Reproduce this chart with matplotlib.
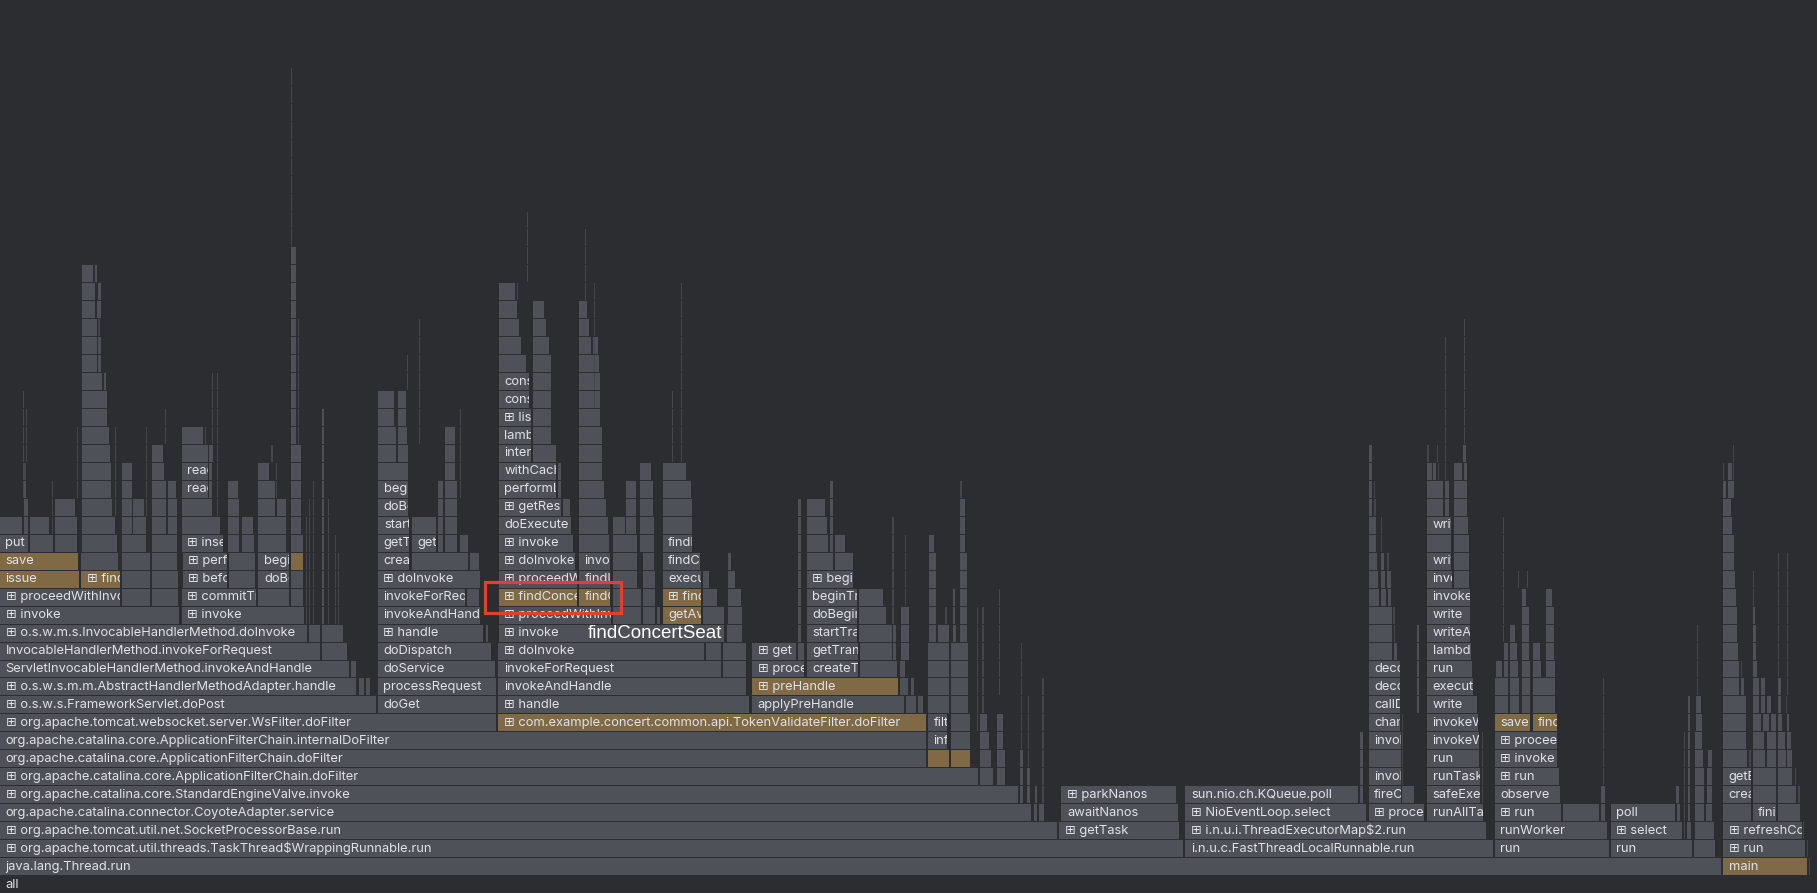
import matplotlib
matplotlib.use("Agg")
import matplotlib.pyplot as plt
from matplotlib.patches import Rectangle
from matplotlib.transforms import Bbox, TransformedBbox

# flame graph frames: (depth, start, end, label); x in sample units (0..1568)
root_label = "all"
total_width = 1568

thread_frames = [
    (1, 0, 1486, "java.lang.Thread.run"),
    (2, 0, 1022, "⊞ org.apache.tomcat.util.threads.TaskThread$WrappingRunnable.run"),
    (3, 0, 913, "⊞ org.apache.tomcat.util.net.SocketProcessorBase.run"),
    (3, 914, 1018, "⊞ getTask"),
    (4, 0, 891, "org.apache.catalina.connector.CoyoteAdapter.service"),
    (4, 892, 896, ""), (4, 897, 902, ""),
    (4, 916, 1017, "awaitNanos"),
    (5, 0, 879, "⊞ org.apache.catalina.core.StandardEngineValve.invoke"),
    (5, 880, 884, ""), (5, 886, 890, ""), (5, 893, 896, ""), (5, 899.5, 901.5, ""),
    (5, 916, 1016, "⊞ parkNanos"),
    (6, 0, 845, "⊞ org.apache.catalina.core.ApplicationFilterChain.doFilter"),
    (6, 846, 858, ""), (6, 860, 868, ""),
    (7, 0, 800, "org.apache.catalina.core.ApplicationFilterChain.doFilter"),
    (7, 801, 820, ""), (7, 821, 838, ""), (7, 846, 856, ""), (7, 860, 868, ""),
    (8, 0, 800, "org.apache.catalina.core.ApplicationFilterChain.internalDoFilter"),
    (8, 801, 818, "info"), (8, 821, 838, ""), (8, 846, 854, ""), (8, 860, 866, ""),
    (9, 0, 429, "⊞ org.apache.tomcat.websocket.server.WsFilter.doFilter"),
    (9, 430, 800, "⊞ com.example.concert.common.api.TokenValidateFilter.doFilter"),
    (9, 801, 818, "filterInternal"), (9, 821, 838, ""), (9, 846, 853, ""), (9, 860, 866, ""),
]

mvc_frames = [
    (10, 0, 325, "⊞ o.s.w.s.FrameworkServlet.doPost"),
    (10, 326, 429, "doGet"),
    (11, 0, 308, "⊞ o.s.w.s.m.m.AbstractHandlerMethodAdapter.handle"),
    (11, 310, 315, ""), (11, 316, 320, ""),
    (11, 326, 429, "processRequest"),
    (12, 0, 302, "ServletInvocableHandlerMethod.invokeAndHandle"),
    (12, 303, 308, ""),
    (12, 326, 428, "doService"),
    (13, 0, 277, "InvocableHandlerMethod.invokeForRequest"),
    (13, 278, 300, ""),
    (13, 326, 425, "doDispatch"),
    (14, 0, 266, "⊞ o.s.w.m.s.InvocableHandlerMethod.doInvoke"),
    (14, 267, 277, ""), (14, 278, 297, ""),
    (14, 326, 418, "⊞ handle"), (14, 419, 422, ""),
    (15, 0, 155, "⊞ invoke"),
    (15, 157, 263, "⊞ invoke"),
    (15, 326, 415, "invokeAndHandle"),
    (16, 0, 104, "⊞ proceedWithInvocation"),
    (16, 105, 130, ""), (16, 131, 154.5, ""),
    (16, 157, 222, "⊞ commitTransactionAfterReturning"),
    (16, 223, 250, ""), (16, 251, 262.5, ""),
    (16, 326, 402, "invokeForRequest"), (16, 403, 414, ""),
    (17, 0, 69, "issue"),
    (17, 70, 104, "⊞ findById"),
    (17, 105, 130, ""), (17, 131, 154.5, ""),
    (17, 157.5, 196.5, "⊞ beforeCommit"), (17, 197.5, 221, ""),
    (17, 223, 250, "doBegin"),
    (17, 251, 262.5, ""),
    (17, 326, 415, "⊞ doInvoke"),
    (18, 0, 68, "save"),
    (18, 70, 103, ""), (18, 105, 130, ""), (18, 131, 154, ""),
    (18, 157.5, 196.5, "⊞ perform"), (18, 197.5, 221, ""),
    (18, 223, 250, "begin"), (18, 251, 262.5, ""),
    (18, 326.5, 354, "createEntityManager"), (18, 355.3, 405, ""), (18, 406, 414, ""),
    (19, 0, 25, "put"), (19, 26, 46.6, ""), (19, 47.5, 67.6, ""),
    (19, 70.5, 102, ""), (19, 105, 126.6, ""), (19, 131, 154, ""),
    (19, 157, 193, "⊞ insert"), (19, 196.5, 207, ""), (19, 208.6, 220, ""),
    (19, 222.4, 248, ""), (19, 251, 262, ""),
    (19, 326.5, 353.8, "getTransaction"), (19, 355.3, 376.8, "get"),
    (19, 378, 383, ""), (19, 384, 395.6, ""), (19, 397, 405, ""),
    (20, 0, 20, ""), (20, 20.7, 25, ""), (20, 26, 43, ""), (20, 47.5, 67.6, ""),
    (20, 70.5, 100, ""), (20, 105, 114.5, ""), (20, 115, 126.6, ""),
    (20, 131, 144, ""), (20, 144.7, 154, ""), (20, 157, 191, ""),
    (20, 196.5, 207, ""), (20, 208.6, 219, ""), (20, 222.4, 248, ""), (20, 251, 261, ""),
    (20, 326.5, 353.8, "startTransaction"), (20, 355.3, 376.8, ""),
    (20, 378, 383, ""), (20, 384, 395.6, ""),
    (21, 20.7, 25, ""), (21, 47.5, 66, ""), (21, 70.5, 97.8, ""),
    (21, 105, 114.5, ""), (21, 115, 125, ""), (21, 131, 144, ""), (21, 144.7, 154, ""),
    (21, 157, 184, ""), (21, 196.5, 207, ""), (21, 222.4, 238, ""), (21, 239, 248, ""),
    (21, 251, 261, ""),
    (21, 326.5, 353, "doBegin"), (21, 378, 383, ""), (21, 384, 395.6, ""),
    (22, 20.7, 23.6, ""), (22, 70.5, 97, ""), (22, 105, 114.5, ""),
    (22, 131, 144, ""), (22, 144.7, 153, ""), (22, 157, 180, "read"), (22, 180.7, 184, ""),
    (22, 196.5, 206.6, ""), (22, 222.4, 238, ""), (22, 251, 261, ""),
    (22, 326.5, 353, "begin"), (22, 378, 383, ""), (22, 384, 395.6, ""),
    (23, 20.7, 23, ""), (23, 70.5, 96.4, ""), (23, 105, 114.5, ""), (23, 131, 142.4, ""),
    (23, 157, 180, "read"), (23, 180.7, 184, ""), (23, 222.4, 233, ""), (23, 251, 261, ""),
    (23, 326.5, 353, ""), (23, 384, 393.5, ""),
    (24, 70.5, 95.5, ""), (24, 131, 141.5, ""), (24, 157, 180, ""), (24, 180.7, 184.7, ""),
    (24, 251, 261, ""),
    (24, 326.5, 342.9, ""), (24, 343.5, 352.7, ""), (24, 384, 393.5, ""),
    (25, 70.5, 95, ""), (25, 157, 176, ""), (25, 177, 179, ""),
    (25, 326.5, 342.3, ""), (25, 343.5, 352.4, ""), (25, 384, 393.5, ""),
    (26, 70.5, 93.5, ""), (26, 326.5, 340.9, ""), (26, 343.5, 351.5, ""),
    (27, 70.5, 93.5, ""), (27, 326.5, 340.9, ""), (27, 343.5, 351.5, ""),
    (28, 70.5, 89, ""), (28, 89.5, 92.6, ""),
    (29, 70.5, 84.3, ""), (29, 84.9, 87.7, ""),
    (30, 70.5, 84.3, ""), (30, 84.9, 87.7, ""),
    (31, 70.5, 84.3, ""), (31, 84.9, 87.2, ""),
    (32, 70.5, 82.9, ""), (32, 83.4, 87.7, ""),
    (33, 70.5, 82.6, ""), (33, 84.9, 87.7, ""),
    (34, 70.5, 81.4, ""), (34, 82, 84.9, ""),
]

concert_frames = [
    (10, 430, 647, "⊞ handle"),
    (11, 430, 645, "invokeAndHandle"),
    (12, 430, 623, "invokeForRequest"), (12, 624, 644.5, ""),
    (13, 430, 608.6, "⊞ doInvoke"), (13, 609.6, 622.8, ""), (13, 623.5, 644.3, ""),
    (14, 430.6, 626, "⊞ invoke"), (14, 627, 641.6, ""),
    (15, 430.6, 527.8, "⊞ proceedWithInvocation"), (15, 528.7, 553.7, ""),
    (15, 554.6, 566, ""), (15, 567, 570.5, ""),
    (15, 571.9, 606.1, "getAvailableSeats"), (15, 607, 625.5, ""), (15, 628.5, 641.5, ""),
    (16, 430.6, 498.5, "⊞ findConcertSeat"), (16, 499.6, 527.3, "findConcertSeat"),
    (16, 528.7, 553.7, ""), (16, 554.6, 566, ""),
    (16, 571.9, 606.1, "⊞ findAllSeats"), (16, 607, 620, ""), (16, 628.5, 640, ""),
    (17, 430.6, 498.5, "⊞ proceedWithInvocation"), (17, 499.6, 527.3, "findList"),
    (17, 528.7, 550.9, ""), (17, 554.6, 566, ""),
    (17, 571.9, 606.1, "execute"), (17, 607, 613, ""), (17, 628.5, 635, ""),
    (18, 430.6, 496.8, "⊞ doInvoke"), (18, 499.6, 527.3, "invoke"),
    (18, 528.7, 550.9, ""), (18, 554.6, 565, ""),
    (18, 571.9, 604.7, "findConcert"), (18, 628.5, 632, ""),
    (19, 430.6, 495.6, "⊞ invoke"), (19, 499.6, 526.4, ""), (19, 528.7, 550.9, ""),
    (19, 552.3, 565, ""), (19, 571.9, 598.3, "findList"),
    (20, 430.6, 493.3, "doExecute"), (20, 499.6, 525.8, ""), (20, 528.7, 540, ""),
    (20, 540.3, 550, ""), (20, 552.3, 565, ""), (20, 571.9, 598.3, ""),
    (21, 430.6, 484.7, "⊞ getResultList"), (21, 485.5, 493, ""), (21, 499.6, 523.5, ""),
    (21, 540.3, 550, ""), (21, 552.3, 564, ""), (21, 571.9, 598.3, ""),
    (22, 430.6, 480.4, "performList"), (22, 481.2, 484.7, ""), (22, 499.6, 522.1, ""),
    (22, 540.3, 549.4, ""), (22, 552.3, 564, ""), (22, 571.9, 597, ""),
    (23, 430.6, 480.4, "withCacheableTransaction"), (23, 481.2, 484.7, ""),
    (23, 499.6, 520.7, ""), (23, 552.3, 563, ""), (23, 571.9, 592.6, ""),
    (24, 430.6, 458.8, "interpret"), (24, 459.7, 480.4, ""), (24, 499.6, 520.7, ""),
    (25, 430.6, 458.8, "lambda$list$0"), (25, 459.7, 476.1, ""), (25, 499.6, 520, ""),
    (26, 430.6, 458.8, "⊞ list"), (26, 459.7, 476.1, ""), (26, 499.6, 518.4, ""),
    (27, 430.6, 457.4, "consume"), (27, 459.7, 476.1, ""), (27, 499.6, 518.4, ""),
    (28, 430.6, 457.4, "consume"), (28, 459.7, 476.1, ""), (28, 499.6, 518.4, ""),
    (29, 431, 455.1, ""), (29, 459.7, 476.1, ""), (29, 499.7, 517.8, ""),
    (30, 431, 450.2, ""), (30, 459.7, 474.7, ""), (30, 499.7, 510.6, ""), (30, 511.5, 517, ""),
    (31, 431, 448.8, ""), (31, 459.7, 472, ""), (31, 499.7, 509, ""),
    (32, 431, 447.3, ""), (32, 459.7, 470, ""), (32, 499.7, 507.7, ""),
    (33, 431, 445.3, ""), (33, 446, 448, ""),
]

tx_frames = [
    (10, 649, 781, "applyPreHandle"), (10, 782, 791, ""), (10, 792, 797, ""),
    (10, 801, 820, ""), (10, 821, 836, ""),
    (11, 649, 776, "⊞ preHandle"), (11, 777, 784, ""), (11, 786, 790, ""),
    (11, 801, 820, ""), (11, 821, 836, ""),
    (12, 649, 695, "⊞ proceed"), (12, 696, 741.7, "createTransactionIfNecessary"),
    (12, 742.4, 774.7, ""), (12, 777, 782, ""), (12, 801, 820, ""), (12, 821, 836, ""),
    (13, 649, 688, "⊞ get"), (13, 689, 695, ""), (13, 696, 741.7, "getTransaction"),
    (13, 742.4, 770.4, ""), (13, 771, 774, ""), (13, 801, 820, ""), (13, 821, 836, ""),
    (14, 689, 692, ""), (14, 696.2, 740.3, "startTransaction"), (14, 741.5, 770.2, ""),
    (14, 771, 774, ""), (14, 801.3, 808.7, ""), (14, 809.3, 819.5, ""),
    (14, 822, 825.6, ""), (14, 828.7, 835.5, ""),
    (15, 696.2, 740.3, "doBegin"), (15, 741.5, 765.6, ""), (15, 801.3, 808.7, ""),
    (15, 815.5, 818, ""), (15, 822, 824.7, ""), (15, 828.7, 835.5, ""),
    (16, 696.2, 740.3, "beginTransaction"), (16, 741.5, 763.1, ""), (16, 801.3, 808.7, ""),
    (16, 822, 824.7, ""), (16, 828.7, 835.5, ""),
    (17, 696.2, 737.2, "⊞ begin"), (17, 801.3, 808.7, ""), (17, 828.7, 835.5, ""),
    (18, 696.2, 719.3, ""), (18, 720.3, 737.2, ""), (18, 801.3, 808.7, ""), (18, 828.7, 835.5, ""),
    (19, 696.2, 715.6, ""), (19, 716.3, 719.3, ""), (19, 720.3, 730, ""),
    (19, 801.3, 807.2, ""), (19, 828.7, 833.4, ""),
    (20, 696.2, 714.7, ""), (20, 716.3, 719.3, ""), (20, 828.7, 833.4, ""),
    (21, 696.2, 713.2, ""), (21, 716.3, 719.3, ""), (21, 828.7, 833.4, ""),
    (22, 716.3, 719.3, ""), (22, 828.7, 831, ""),
]

netty_frames = [
    (2, 1023, 1289, "i.n.u.c.FastThreadLocalRunnable.run"),
    (3, 1023, 1283.5, "⊞ i.n.u.i.ThreadExecutorMap$2.run"),
    (4, 1023, 1180, "⊞ NioEventLoop.select"), (4, 1181, 1230, "⊞ processSelectedKeys"),
    (4, 1231.5, 1281, "runAllTasks"),
    (5, 1023, 1173, "sun.nio.ch.KQueue.poll"), (5, 1174, 1177, ""),
    (5, 1181, 1209.5, "fireChannelRead"), (5, 1210, 1221, ""), (5, 1231.5, 1278.4, "safeExecute"),
    (6, 1174, 1177, ""), (6, 1181, 1209.5, "invokeChannelRead"), (6, 1210, 1212, ""),
    (6, 1231.5, 1278.4, "runTask"),
    (7, 1181, 1209.5, ""), (7, 1231.5, 1277.4, "run"),
    (8, 1181, 1209.5, "invokeChannelRead"), (8, 1231.5, 1277, "invokeWriteAndFlush"),
    (9, 1181, 1208.8, "channelRead"), (9, 1231.5, 1276, "invokeWrite"),
    (10, 1181, 1208.8, "callDecode"), (10, 1231.5, 1275.7, "write"),
    (11, 1181, 1208.8, "decode"), (11, 1231.5, 1272, "execute"),
    (12, 1181, 1208.8, "decodeRemovalReentryProtection"), (12, 1231.5, 1271, "run"),
    (13, 1181, 1202.4, ""), (13, 1203, 1206, ""), (13, 1231.5, 1270, "lambda$write$0"),
    (14, 1181, 1202.4, ""), (14, 1203, 1205, ""), (14, 1231.4, 1269.1, "writeAndFlush"),
    (15, 1181, 1201.9, ""), (15, 1202.5, 1205, ""), (15, 1231.4, 1269.1, "write"),
    (16, 1181, 1190.9, ""), (16, 1191.7, 1197.2, ""), (16, 1198, 1201.5, ""),
    (16, 1231.4, 1269.1, "invokeWrite"),
    (17, 1181, 1190.3, ""), (17, 1191.7, 1196, ""), (17, 1197.2, 1201, ""),
    (17, 1231.4, 1253.6, "invokeWrite0"), (17, 1254.4, 1268.5, ""),
    (18, 1181, 1189.4, ""), (18, 1191.7, 1195.2, ""), (18, 1197.2, 1199.5, ""),
    (18, 1231.4, 1252.7, "write"), (18, 1254.4, 1268.5, ""),
    (19, 1181, 1188.5, ""), (19, 1191.7, 1193.7, ""),
    (19, 1231.4, 1252.7, ""), (19, 1254.4, 1268.5, ""),
    (20, 1181, 1188, ""), (20, 1191.7, 1193.7, ""),
    (20, 1231.4, 1252.7, "write"), (20, 1254.4, 1268, ""),
    (21, 1181, 1185.1, ""), (21, 1186, 1188, ""), (21, 1231.4, 1246.1, ""),
    (21, 1247, 1251.3, ""), (21, 1254.4, 1267.1, ""),
    (22, 1181, 1185.1, ""), (22, 1186, 1187.8, ""), (22, 1231.4, 1246.1, ""),
    (22, 1247, 1251.3, ""), (22, 1254.4, 1267.1, ""),
    (23, 1181, 1184.5, ""), (23, 1231.4, 1236.3, ""), (23, 1236.9, 1239.8, ""),
    (23, 1240.6, 1242.6, ""), (23, 1254.4, 1262.8, ""), (23, 1263.4, 1267.1, ""),
    (24, 1181, 1184.5, ""), (24, 1231.4, 1234, ""), (24, 1235.4, 1236.9, ""),
    (24, 1240, 1242, ""), (24, 1262.8, 1265.6, ""),
]

worker_frames = [
    (2, 1290, 1389, "run"), (2, 1390, 1461, "run"), (2, 1462, 1480.5, ""),
    (3, 1290, 1388, "runWorker"), (3, 1390, 1452.6, "⊞ select"), (3, 1453, 1455, ""),
    (3, 1456, 1460, ""), (3, 1462.7, 1480, ""),
    (4, 1290, 1348, "⊞ run"), (4, 1349, 1381, ""), (4, 1382, 1386, ""),
    (4, 1390, 1446, "poll"), (4, 1447, 1451, ""), (4, 1462.7, 1471.4, ""), (4, 1472.2, 1478.6, ""),
    (5, 1290, 1347, "observe"), (5, 1382, 1386, ""), (5, 1446.5, 1450, ""),
    (5, 1462.7, 1471.4, ""), (5, 1472.8, 1478.6, ""),
    (6, 1290, 1346, "⊞ run"), (6, 1462.7, 1471.4, ""), (6, 1472.8, 1478.6, ""),
    (7, 1290, 1344.6, "⊞ invoke"), (7, 1462.7, 1470.5, ""), (7, 1474.3, 1478.6, ""),
    (8, 1290, 1344.6, "⊞ proceed"), (8, 1462.7, 1470, ""),
    (9, 1290, 1321.6, "save"), (9, 1322.6, 1344.6, "findById"), (9, 1463.6, 1470, ""),
    (10, 1290, 1302, ""), (10, 1303, 1312, ""), (10, 1313, 1321, ""), (10, 1322.6, 1343, ""),
    (10, 1464, 1468.5, ""),
    (11, 1290, 1302, ""), (11, 1303, 1312, ""), (11, 1313, 1321, ""), (11, 1322.6, 1343, ""),
    (12, 1291, 1297, ""), (12, 1298, 1302, ""), (12, 1303, 1311, ""), (12, 1313, 1321, ""),
    (12, 1322.6, 1331, ""), (12, 1334.4, 1343, ""),
    (13, 1298, 1302, ""), (13, 1303, 1310, ""), (13, 1313, 1320, ""),
    (13, 1322.6, 1330, ""), (13, 1334.4, 1342, ""),
    (14, 1303, 1308, ""), (14, 1313, 1320, ""), (14, 1334.4, 1342, ""),
    (15, 1313, 1320, ""), (15, 1334.4, 1342, ""),
    (16, 1313, 1318, ""), (16, 1334.4, 1340, ""),
]

main_frames = [
    (1, 1487, 1560, "main"), (1, 1561, 1563, ""),
    (2, 1487, 1558.6, "⊞ run"), (2, 1559, 1561, ""),
    (3, 1487, 1555.7, "⊞ refreshContext"), (3, 1556, 1558, ""),
    (4, 1487, 1512, ""), (4, 1512.5, 1533.2, "finishBeanFactoryInitialization"),
    (4, 1534, 1554, ""),
    (5, 1487, 1511.7, "createBean"), (5, 1512.5, 1533.2, ""), (5, 1534, 1551, ""),
    (5, 1552, 1554, ""),
    (6, 1487, 1511.7, "getBean"), (6, 1512.5, 1533.2, ""), (6, 1534, 1547.6, ""),
    (6, 1549, 1551, ""),
    (7, 1487, 1508.8, ""), (7, 1509.6, 1511.7, ""), (7, 1512.5, 1524, ""),
    (7, 1524.6, 1533.2, ""), (7, 1534, 1541.9, ""), (7, 1542.5, 1547.6, ""),
    (8, 1487, 1507.3, ""), (8, 1512.5, 1523.2, ""), (8, 1524.6, 1533.2, ""),
    (8, 1534, 1541.3, ""), (8, 1542.5, 1546.2, ""),
    (9, 1487, 1507.3, ""), (9, 1512.5, 1520.3, ""), (9, 1521.2, 1527.5, ""),
    (9, 1528.3, 1533.2, ""), (9, 1534, 1539, ""), (9, 1541.9, 1544.7, ""),
    (10, 1487, 1507.3, ""), (10, 1512.5, 1518.8, ""), (10, 1519.4, 1524, ""),
    (10, 1524.6, 1529, ""), (10, 1534, 1537.6, ""), (10, 1541.3, 1543.3, ""),
    (11, 1487, 1501.6, ""), (11, 1502.5, 1506, ""), (11, 1512.5, 1518.8, ""),
    (11, 1519.4, 1524, ""), (11, 1534, 1537.6, ""),
    (12, 1487, 1501.6, ""), (12, 1502.5, 1504.5, ""), (12, 1512.5, 1517.4, ""),
    (12, 1534, 1536, ""),
    (13, 1487, 1501, ""), (13, 1512.5, 1516.5, ""), (13, 1534, 1536, ""),
    (14, 1487, 1500.1, ""), (14, 1512.5, 1516, ""),
    (15, 1487, 1500.1, ""), (15, 1512.5, 1515.4, ""),
    (16, 1487, 1498.7, ""), (16, 1512.5, 1514.5, ""),
    (17, 1487, 1498.1, ""), (17, 1512.5, 1514.5, ""),
    (18, 1487, 1497.3, ""), (19, 1487, 1497.3, ""), (20, 1487, 1495.8, ""),
    (21, 1487, 1494.4, ""), (22, 1487, 1490, ""), (22, 1491.5, 1497, ""),
    (23, 1487, 1488.6, ""), (23, 1491.5, 1495.8, ""),
]

# narrow columns of one-sample frames: (start, end, from_depth, to_depth)
thin_stacks = [
    (20.0, 21.2, 22, 27), (22.5, 23.6, 24, 26), (44.6, 46.6, 20, 22), (66.5, 67.6, 22, 25),
    (99.5, 101.3, 21, 25), (126.0, 127.4, 21, 25), (142.5, 143.5, 25, 26),
    (183.0, 184.4, 25, 28), (187.5, 189.0, 21, 28), (234.0, 236.5, 24, 24),
    (238.5, 240.0, 22, 23), (251.0, 256.0, 25, 35), (251.5, 253.0, 36, 45),
    (257.0, 258.5, 25, 31), (264.0, 265.5, 15, 20), (266.5, 268.0, 15, 21),
    (270.0, 272.0, 15, 22), (277.6, 280.5, 15, 26), (283.0, 285.0, 15, 21),
    (289.0, 290.5, 15, 19), (292.0, 293.2, 15, 18),
    (351.5, 353.0, 28, 29), (362.0, 363.5, 25, 31), (397.0, 398.5, 22, 26),
    (455.0, 456.5, 34, 37), (459.7, 461.0, 33, 39), (462.3, 463.5, 33, 39),
    (486.5, 487.6, 22, 43), (491.0, 492.2, 22, 36), (505.0, 506.4, 33, 36),
    (512.8, 514.0, 27, 33), (580.0, 581.5, 24, 27), (588.0, 589.6, 24, 33),
    (592.5, 594.0, 24, 35),
    (688.5, 692.0, 15, 21), (770.0, 772.0, 15, 20), (777.9, 785.6, 13, 15),
    (781.0, 782.6, 16, 19), (843.0, 845.0, 9, 15),
    (847.5, 850.0, 10, 15), (862.0, 864.0, 11, 16), (880.0, 884.0, 6, 7),
    (881.5, 883.0, 8, 13), (886.0, 890.0, 6, 6), (887.0, 888.5, 7, 10),
    (899.5, 901.5, 6, 11),
    (1174.0, 1177.0, 7, 8), (1210.0, 1211.5, 7, 9), (1222.6, 1225.5, 10, 14),
    (1278.5, 1281.0, 5, 8), (1297.3, 1298.7, 14, 20), (1310.0, 1311.5, 17, 17),
    (1318.0, 1319.5, 17, 17), (1383.0, 1385.0, 6, 11), (1453.0, 1455.0, 4, 8),
    (1456.5, 1459.5, 4, 10), (1247.0, 1248.4, 23, 30), (1263.4, 1264.8, 25, 31),
    (1486.6, 1488.0, 24, 35), (1495.8, 1497.3, 23, 24), (1509.0, 1510.5, 8, 26),
    (1534.5, 1536.0, 14, 18), (1541.9, 1543.5, 11, 18), (1464.5, 1466.5, 11, 14),
]

# frames matched by the search (depth, start)
search_hits = [(1, 1487), (7, 801), (7, 821), (9, 430), (9, 1290), (9, 1322.6),
               (11, 649), (15, 571.9), (16, 430.6), (16, 499.6), (16, 571.9),
               (17, 0), (17, 70), (18, 0), (18, 251)]
selected_depth = 16
hover_label = "findConcertSeat"

BG = "#2B2D30"
FRAME = "#4E5157"
THIN = "#43464C"
HIT = "#7F6A45"
TXT = "#DFE1E5"

frames = thread_frames + mvc_frames + concert_frames + tx_frames + netty_frames + worker_frames + main_frames
for x0, x1, d0, d1 in thin_stacks:
    for d in range(d0, d1 + 1):
        frames.append((d, x0, x1, ""))

fig = plt.figure(figsize=(18.17, 8.93), dpi=100, facecolor=BG)
ax = fig.add_axes([0, 0, 1, 1])
ax.set_facecolor(BG)
ax.set_xlim(0, total_width)
ax.set_ylim(0, 893 / 17.96)
ax.axis("off")

gap_x = total_width / 1817.0
bar_h = 1 - 1 / 17.96
hits = set(search_hits)

cols = {FRAME: ([], [], []), THIN: ([], [], []), HIT: ([], [], [])}
for d, x0, x1, lab in frames:
    if (d, x0) in hits:
        c = HIT
    elif x1 - x0 < 2.6:
        c = THIN
    else:
        c = FRAME
    cols[c][0].append(d)
    cols[c][1].append(x0)
    cols[c][2].append(max(x1 - x0 - gap_x, 0.45))
for c, (ys, lefts, ws) in cols.items():
    ax.barh(ys, ws, left=lefts, height=bar_h, align="edge", color=c, linewidth=0)

font = ["Inter", "DejaVu Sans"]


def put_label(d, x0, x1, lab):
    t = ax.text(x0 + 5.5 * gap_x, d + bar_h / 2, lab, fontsize=9.3, color=TXT,
                ha="left", va="center", family=font, clip_on=True, parse_math=False)
    t.set_clip_box(TransformedBbox(Bbox.from_extents(x0, d, x1 - gap_x, d + 1), ax.transData))


put_label(0, 0, total_width, root_label)
for d, x0, x1, lab in frames:
    if lab:
        put_label(d, x0, x1, lab)

# selection box around the matched frames on the selected row
sel = [(x0, x1) for d, x0, x1, lab in concert_frames if d == selected_depth and (d, x0) in hits and x0 < 560]
bx0 = min(s[0] for s in sel) - 12
bx1 = max(s[1] for s in sel) + 9
ax.add_patch(Rectangle((bx0, selected_depth - 0.4), bx1 - bx0, bar_h + 0.75,
                       fill=False, edgecolor="#EE3A2B", linewidth=2.3, zorder=5))

# hover tooltip text
ax.text(sel[-1][0] + 8, selected_depth - 2 + 0.47, hover_label, fontsize=13.5,
        color="#FFFFFF", ha="left", va="center", family=["Liberation Sans", "DejaVu Sans"],
        zorder=6, parse_math=False)

fig.savefig("out.png", dpi=100, facecolor=BG)
